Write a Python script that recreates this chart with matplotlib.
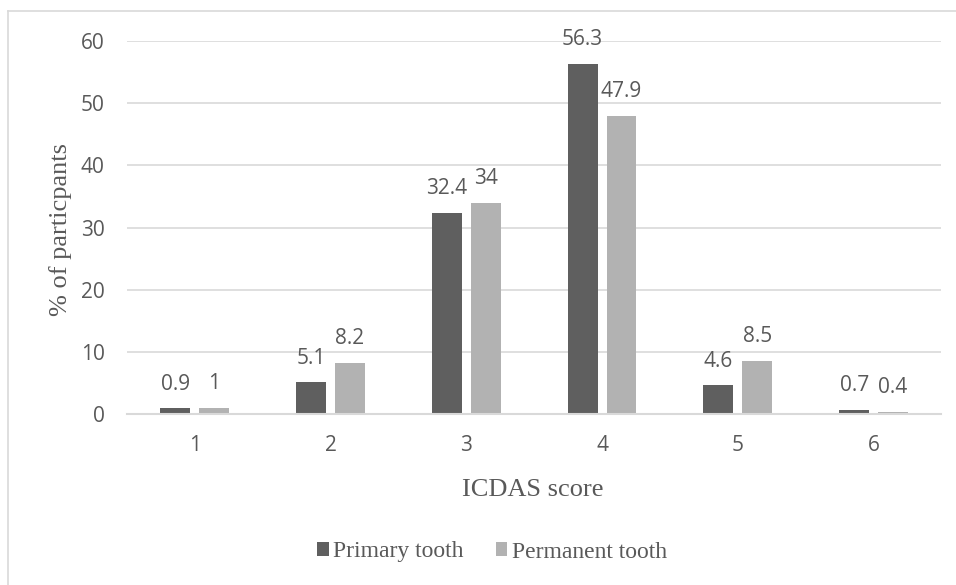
import numpy as np
import matplotlib.pyplot as plt
from matplotlib.lines import Line2D

scores = ["1", "2", "3", "4", "5", "6"]
primary = [0.9, 5.1, 32.4, 56.3, 4.6, 0.7]
permanent = [1, 8.2, 34, 47.9, 8.5, 0.4]
primary_lbl = ["0.9", "5.1", "32.4", "56.3", "4.6", "0.7"]
permanent_lbl = ["1", "8.2", "34", "47.9", "8.5", "0.4"]

txt = "#595959"
sans = "Open Sans"
serif = "Liberation Serif"

fig = plt.figure(figsize=(9.56, 5.85), dpi=100)
ax = fig.add_axes([0.1328, 0.2923, 0.852, 0.6376])

x = np.arange(len(scores))
w = 0.22
b1 = ax.bar(x - 0.143, primary, w, color="#5f5f5f", label="Primary tooth", zorder=3)
b2 = ax.bar(x + 0.143, permanent, w, color="#b2b2b2", label="Permanent tooth", zorder=3)

for bars, labs in [(b1, primary_lbl), (b2, permanent_lbl)]:
    for r, s in zip(bars, labs):
        ax.annotate(s, (r.get_x() + r.get_width() / 2, r.get_height()),
                    xytext=(0, 13.5), textcoords="offset points",
                    ha="center", va="baseline", fontsize=15,
                    family=sans, color=txt)

ax.set_xlim(-0.5, 5.5)
ax.set_ylim(0, 60)
ax.set_yticks(range(0, 61, 10))
ax.set_xticks(x)
ax.set_xticklabels(scores)
ax.grid(axis="y", color="#d9d9d9", linewidth=1.2, zorder=0)
for s in ["top", "right", "left"]:
    ax.spines[s].set_visible(False)
ax.spines["bottom"].set_color("#d9d9d9")
ax.spines["bottom"].set_linewidth(1.5)
ax.spines["bottom"].set_zorder(4)
ax.tick_params(length=0, labelsize=15, labelcolor=txt, pad=15)
ax.tick_params(axis="y", pad=16)
for t in ax.get_xticklabels() + ax.get_yticklabels():
    t.set_family(sans)

fig.text(61 / 956, 1 - 230 / 585, "% of particpants", family=serif, fontsize=19,
         color=txt, rotation=90, ha="center", va="center")
fig.text(533 / 956, 1 - 490 / 585, "ICDAS score", family=serif, fontsize=19,
         color=txt, ha="center", va="center")

leg = fig.legend(loc="center", bbox_to_anchor=(492 / 956, 1 - 552 / 585), ncol=2,
                 frameon=False, prop={"family": serif, "size": 17},
                 handlelength=0.5, handleheight=0.5, handletextpad=0.2,
                 columnspacing=1.35)
for t in leg.get_texts():
    t.set_color(txt)

# chart border (only top and left edges show)
fig.add_artist(Line2D([8 / 956, 1], [1 - 11 / 585] * 2, color="#d9d9d9", lw=1.2,
                      transform=fig.transFigure))
fig.add_artist(Line2D([8 / 956] * 2, [0, 1 - 11 / 585], color="#d9d9d9", lw=1.2,
                      transform=fig.transFigure))

fig.savefig("out.png", dpi=100)
